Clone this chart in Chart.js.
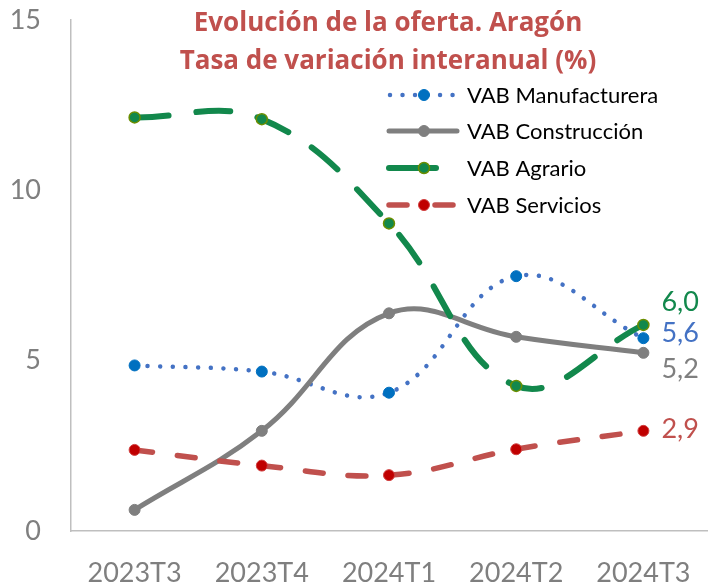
<!DOCTYPE html>
<html><head><meta charset="utf-8">
<script src="https://cdn.jsdelivr.net/npm/chart.js@4"></script>
<style>html,body{margin:0;padding:0;background:#fff}#wrap{width:714px;height:587px;position:relative}</style>
</head><body><div id="wrap"><canvas id="c"></canvas></div>
<script>
const categories = ['2023T3','2023T4','2024T1','2024T2','2024T3'];
const manufacturera = [4.86, 4.68, 4.06, 7.48, 5.66];
const construccion = [0.62, 2.94, 6.39, 5.70, 5.23];
const agrario = [12.14, 12.09, 9.03, 4.26, 6.05];
const servicios = [2.38, 1.92, 1.64, 2.40, 2.94];
const seriesNames = ['VAB Manufacturera', 'VAB Construcción', 'VAB Agrario', 'VAB Servicios'];
const endLabels = ['5,6', '5,2', '6,0', '2,9'];
const yTicks = [0, 5, 10, 15];
const titleLines = ['Evolución de la oferta. Aragón', 'Tasa de variación interanual (%)'];

const FONT = 'Lato, "Open Sans", sans-serif';
const TITLE_FONT = '"Open Sans", Lato, sans-serif';
const TICK_COLOR = '#7f7f7f';

const styles = [
  {line:'#4472C4', fill:'#0070C0', border:'#0070C0', width:4.5, dash:[0.01, 12.7], labelColor:'#4472C4', labelDy:-5},
  {line:'#7F7F7F', fill:'#7F7F7F', border:'#7F7F7F', width:5, dash:[], labelColor:'#7F7F7F', labelDy:16},
  {line:'#12884C', fill:'#12884C', border:'#6B8E00', width:6, dash:[34, 28], labelColor:'#12884C', labelDy:-23},
  {line:'#C0504D', fill:'#C00000', border:'#D04040', width:5.5, dash:[18, 25], labelColor:'#C0504D', labelDy:-2}
];
const seriesData = [manufacturera, construccion, agrario, servicios];

const datasets = seriesData.map((d, i) => ({
  label: seriesNames[i],
  data: d,
  borderColor: styles[i].line,
  borderWidth: styles[i].width,
  borderDash: styles[i].dash,
  borderCapStyle: 'round',
  borderJoinStyle: 'round',
  tension: 0.4,
  pointRadius: 5.5,
  pointHoverRadius: 5.5,
  pointBackgroundColor: styles[i].fill,
  pointBorderColor: styles[i].border,
  pointBorderWidth: i === 2 ? 1.5 : 1,
  clip: false,
  order: [3, 2, 1, 0][i]
}));

const overlayPlugin = {
  id: 'overlay',
  afterDatasetsDraw(chart) {
    const ctx = chart.ctx;
    const xs = chart.scales.x, ys = chart.scales.y;
    ctx.save();
    // end-of-series labels
    ctx.font = '27px ' + FONT;
    ctx.textAlign = 'left';
    ctx.textBaseline = 'middle';
    seriesData.forEach((d, i) => {
      const last = d.length - 1;
      const px = xs.getPixelForValue(last);
      const py = ys.getPixelForValue(d[last]);
      ctx.fillStyle = styles[i].labelColor;
      ctx.fillText(endLabels[i], px + 18, py + styles[i].labelDy);
    });
    // title
    ctx.font = 'bold 26px ' + TITLE_FONT;
    ctx.fillStyle = '#C0504D';
    ctx.textAlign = 'center';
    ctx.fillText(titleLines[0], 388, 24);
    ctx.fillText(titleLines[1], 388, 62);
    // legend
    const rowY = [95, 131, 168, 205];
    seriesNames.forEach((name, i) => {
      const y = rowY[i];
      const s = styles[i];
      ctx.save();
      ctx.strokeStyle = s.line;
      ctx.lineWidth = s.width;
      ctx.lineCap = 'round';
      ctx.beginPath();
      if (i === 0) {
        ctx.setLineDash([0.01, 12.5]);
        ctx.moveTo(390, y); ctx.lineTo(458, y);
      } else if (i === 1) {
        ctx.moveTo(389, y); ctx.lineTo(457, y);
      } else if (i === 2) {
        ctx.moveTo(389, y); ctx.lineTo(436, y);
      } else {
        ctx.moveTo(389, y); ctx.lineTo(407, y);
        ctx.moveTo(435, y); ctx.lineTo(453, y);
      }
      ctx.stroke();
      ctx.setLineDash([]);
      ctx.beginPath();
      ctx.arc(424, y, 5.5, 0, Math.PI * 2);
      ctx.fillStyle = s.fill;
      ctx.fill();
      ctx.lineWidth = i === 2 ? 1.5 : 1;
      ctx.strokeStyle = s.border;
      ctx.stroke();
      ctx.restore();
      ctx.font = '22px ' + FONT;
      ctx.fillStyle = '#000';
      ctx.textAlign = 'left';
      ctx.textBaseline = 'middle';
      ctx.fillText(name, 467, y + 1);
    });
    ctx.restore();
  }
};

new Chart(document.getElementById('c'), {
  type: 'line',
  data: { labels: categories, datasets },
  plugins: [overlayPlugin],
  options: {
    responsive: true,
    maintainAspectRatio: false,
    animation: false,
    devicePixelRatio: 1,
    layout: { padding: { top: 20, right: 5, left: 0, bottom: 0 } },
    plugins: { legend: { display: false }, title: { display: false }, tooltip: { enabled: false } },
    scales: {
      x: {
        offset: true,
        grid: { display: false, drawTicks: false },
        border: { display: true, color: '#bfbfbf', width: 1.5 },
        ticks: { color: TICK_COLOR, font: { family: FONT, size: 27 }, padding: 26, maxRotation: 0, autoSkip: false },
        afterFit(s) { s.height = 56; s.paddingLeft = 0; s.paddingRight = 0; }
      },
      y: {
        min: 0, max: 15,
        afterBuildTicks(s) { s.ticks = yTicks.map(v => ({ value: v })); },
        grid: { display: false, drawTicks: false },
        border: { display: true, color: '#bfbfbf', width: 1.5 },
        ticks: { color: TICK_COLOR, font: { family: FONT, size: 27 }, padding: 30 },
        afterFit(s) { s.width = 71; s.paddingTop = 0; s.paddingBottom = 0; }
      }
    }
  }
});
</script>
</body></html>
